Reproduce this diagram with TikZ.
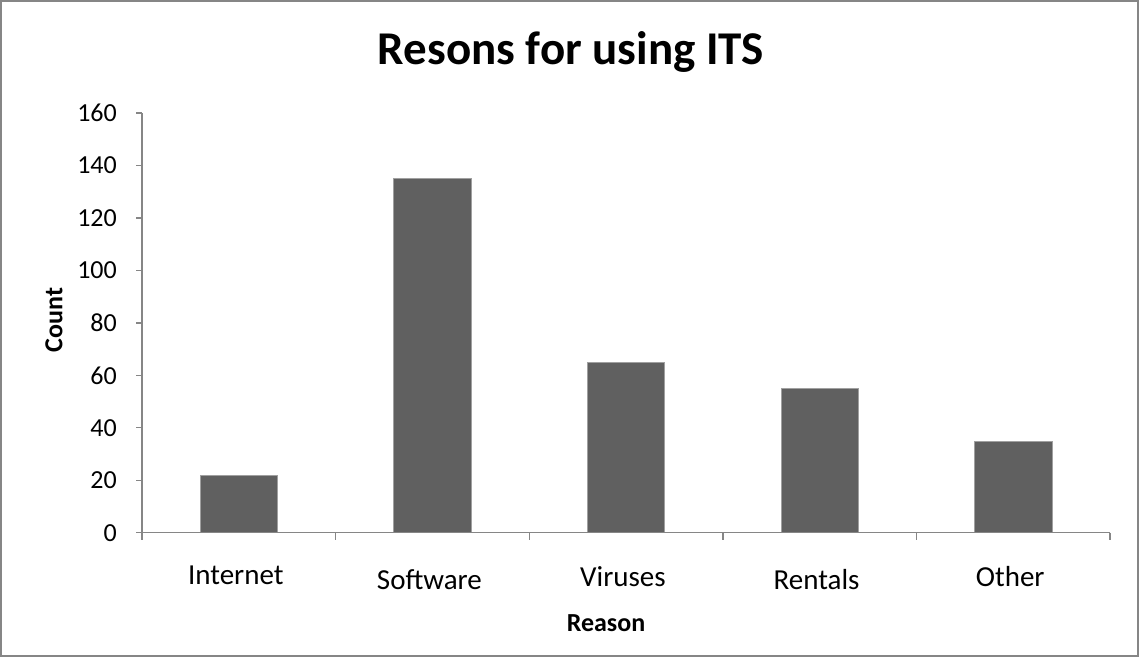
\documentclass[tikz,border=0pt]{standalone}
\usepackage{fontspec}
\setmainfont{Carlito}
\usetikzlibrary{positioning}
\definecolor{axisgray}{HTML}{868686}
\definecolor{bargray}{HTML}{606060}
\tikzset{
  axisline/.style={draw=axisgray,line width=1.4pt},
  barbox/.style={fill=bargray,draw=bargray!60!white,line width=0.5pt},
  ticklabel/.style={font=\fontsize{26}{30}\selectfont,inner sep=0pt,anchor=east},
  catlabel/.style={font=\fontsize{29}{34}\selectfont,inner sep=0pt,anchor=base},
  axistitle/.style={font=\bfseries\fontsize{26}{30}\selectfont,inner sep=0pt}
}

\begin{document}
\begin{tikzpicture}[x=1pt,y=-1pt]
\useasboundingbox (0,0) rectangle (1139,657);
\draw[axisgray,line width=1.8pt] (1,1) rectangle (1138,656);
\node[font=\bfseries\fontsize{47}{56}\selectfont,anchor=base,inner sep=0pt] (title) at (571,64) {Resons for using ITS};

% value axis, zero at 532.7, 2.623 per unit
\foreach \v in {0,20,...,160} {
  \draw[axisline] (136,{532.7-2.623*\v}) -- (142,{532.7-2.623*\v});
  \node[ticklabel] (tick\v) at (117,{532.7-2.623*\v}) {\v};
}

% bars
\foreach \name/\val/\dy [count=\i] in {Internet/22/0,Software/135/5,Viruses/65/2,Rentals/55/5,Other/35/2} {
  \draw[barbox] ({142+193.6*(\i-0.5)-38.7},532.7) rectangle ({142+193.6*(\i-0.5)+38.7},{532.7-2.623*\val});
  \node[catlabel] (cat\i) at ({142+193.6*(\i-0.5)-3},{584+\dy}) {\name};
}

% axes
\draw[axisline] (142,113) -- (142,532.7) -- (1110,532.7);
\foreach \i in {0,...,5}
  \draw[axisline] ({142+193.6*\i},532.7) -- ++(0,7);

\node[axistitle,rotate=90] (ytitle) at (54,320) {Count};
\node[axistitle,anchor=base] (xtitle) at (606,631) {Reason};
\end{tikzpicture}
\end{document}
